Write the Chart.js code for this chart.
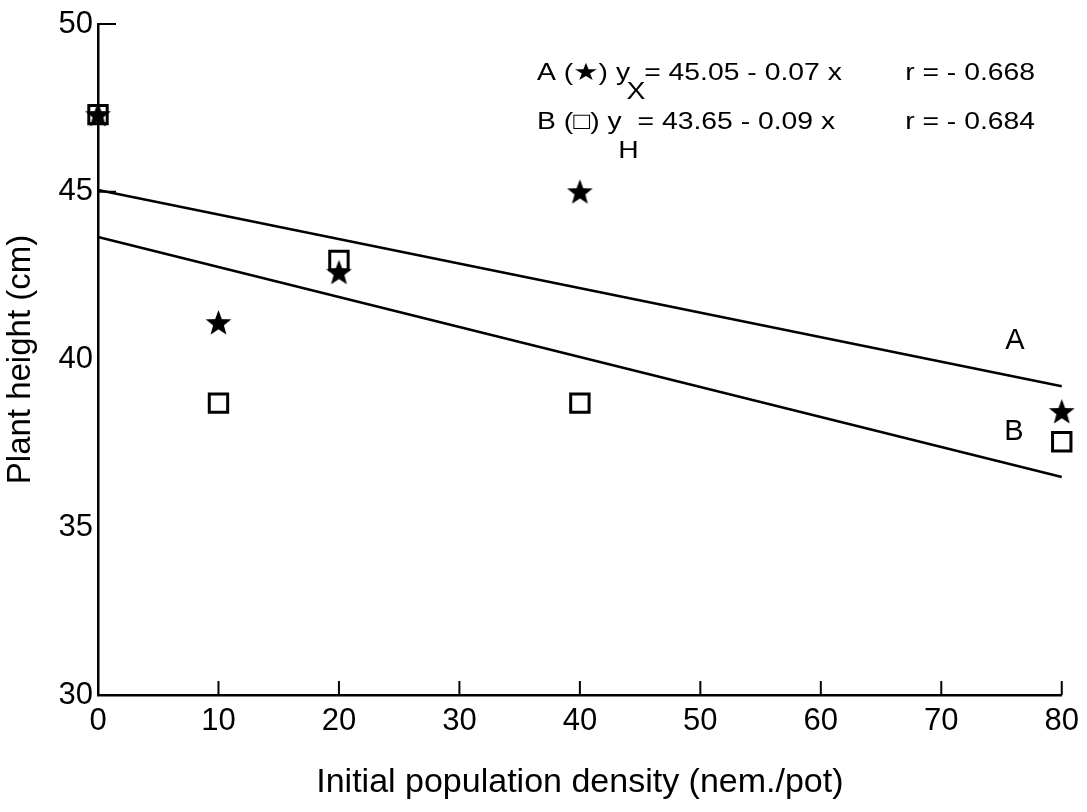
<!DOCTYPE html>
<html>
<head>
<meta charset="utf-8">
<script src="https://cdn.jsdelivr.net/npm/chart.js@4.4.1/dist/chart.umd.min.js"></script>
<style>
  body { margin: 0; background: #fff; }
  canvas { display: block; }
</style>
</head>
<body>
<canvas id="plot" width="1087" height="812"></canvas>
<script>
// values
var densities = [0, 10, 20, 40, 80];
var heightA = [47.3, 41.1, 42.6, 45.0, 38.45];   // stars
var heightB = [47.3, 38.7, 42.95, 38.7, 37.55];  // squares
var fitX = [0, 80];
var fitA = [45.05, 39.2];
var fitB = [43.65, 36.5];
var yInwardTicks = [50, 45];

var FONT = "'Liberation Sans', Arial, Helvetica, 'DejaVu Sans', sans-serif";

function pairs(xs, ys) {
    var out = [];
    for (var i = 0; i < xs.length; i++) {
        out.push({x: xs[i], y: ys[i]});
    }
    return out;
}

// filled five point star used as point style
function makeStar(size) {
    var c = document.createElement('canvas');
    c.width = size;
    c.height = size;
    var g = c.getContext('2d');
    var cx = size / 2, cy = size / 2 + 1;
    var outer = size / 2, inner = outer * 0.42;
    g.beginPath();
    for (var i = 0; i < 10; i++) {
        var r = (i % 2 === 0) ? outer : inner;
        var a = -Math.PI / 2 + i * Math.PI / 5;
        g.lineTo(cx + r * Math.cos(a), cy + r * Math.sin(a));
    }
    g.closePath();
    g.fillStyle = '#000';
    g.fill();
    return c;
}

var starImg = makeStar(27);

// inward tick marks + notes
var extras = {
    id: 'extras',
    afterDraw: function (chart) {
        var ctx = chart.ctx;
        var xs = chart.scales.x, ys = chart.scales.y;
        var area = chart.chartArea;
        ctx.save();
        ctx.strokeStyle = '#000';
        ctx.lineWidth = 2;
        xs.ticks.forEach(function (t) {
            if (t.value === 0) return;
            var px = xs.getPixelForValue(t.value);
            ctx.beginPath();
            ctx.moveTo(px, area.bottom);
            ctx.lineTo(px, area.bottom - 14);
            ctx.stroke();
        });
        yInwardTicks.forEach(function (v) {
            var py = ys.getPixelForValue(v);
            ctx.beginPath();
            ctx.moveTo(area.left, py);
            ctx.lineTo(area.left + 18, py);
            ctx.stroke();
        });

        ctx.fillStyle = '#000';
        ctx.textBaseline = 'alphabetic';

        // equations (the scan is a little wide, so stretch x)
        var sx = 1.18;
        function eqLine(prefix, sub, rest, rtext, base, subBase) {
            ctx.save();
            ctx.font = '24px ' + FONT;
            ctx.translate(537, 0);
            ctx.scale(sx, 1);
            var x = 0;
            ctx.textAlign = 'left';
            ctx.fillText(prefix, x, base);
            x += ctx.measureText(prefix).width;
            ctx.fillText(sub, x - 3, subBase);
            x += ctx.measureText(sub).width - 4;
            ctx.fillText(rest, x, base);
            ctx.textAlign = 'right';
            ctx.fillText(rtext, (1035 - 537) / sx, base);
            ctx.restore();
        }
        eqLine('A (\u2605) y', 'X', '= 45.05 - 0.07 x', 'r = - 0.668', 80, 99);
        eqLine('B (\u25A1) y', 'H', '= 43.65 - 0.09 x', 'r = - 0.684', 129, 158);

        // line labels
        ctx.font = '29px ' + FONT;
        ctx.textAlign = 'center';
        ctx.textBaseline = 'middle';
        ctx.fillText('A', 1015, 341);
        ctx.fillText('B', 1014, 432);
        ctx.restore();
    }
};

var ctx = document.getElementById('plot');

new Chart(ctx, {
    type: 'scatter',
    data: {
        datasets: [
            {
                label: 'A',
                data: pairs(densities, heightA),
                pointStyle: starImg,
                pointRadius: 13,
                clip: false,
                order: 0
            },
            {
                label: 'B',
                data: pairs(densities, heightB),
                pointStyle: 'rect',
                pointRadius: 13,
                pointBorderWidth: 3,
                pointBorderColor: '#000',
                pointBackgroundColor: 'rgba(0,0,0,0)',
                clip: false,
                order: 1
            },
            {
                label: 'fit A',
                data: pairs(fitX, fitA),
                showLine: true,
                pointRadius: 0,
                borderColor: '#000',
                borderWidth: 2.5,
                clip: false,
                order: 2
            },
            {
                label: 'fit B',
                data: pairs(fitX, fitB),
                showLine: true,
                pointRadius: 0,
                borderColor: '#000',
                borderWidth: 2.5,
                clip: false,
                order: 3
            }
        ]
    },
    options: {
        responsive: false,
        animation: false,
        layout: { padding: { top: 24, right: 21, left: 0, bottom: 0 } },
        plugins: {
            legend: { display: false },
            tooltip: { enabled: false }
        },
        scales: {
            x: {
                type: 'linear',
                min: 0,
                max: 80,
                afterFit: function (s) { s.height = 117; },
                grid: { display: false, drawTicks: false },
                border: { display: true, color: '#000', width: 2.5 },
                ticks: {
                    stepSize: 10,
                    padding: 8,
                    color: '#000',
                    font: { family: FONT, size: 31 }
                },
                title: {
                    display: true,
                    text: 'Initial population density (nem./pot)',
                    color: '#000',
                    font: { family: FONT, size: 34 },
                    padding: { top: 0, bottom: 9 }
                }
            },
            y: {
                type: 'linear',
                min: 30,
                max: 50,
                afterFit: function (s) { s.width = 98; },
                grid: { display: false, drawTicks: false },
                border: { display: true, color: '#000', width: 2.5 },
                ticks: {
                    stepSize: 5,
                    padding: 5,
                    color: '#000',
                    font: { family: FONT, size: 31 }
                },
                title: {
                    display: true,
                    text: 'Plant height (cm)',
                    color: '#000',
                    font: { family: FONT, size: 33 },
                    padding: { top: 1, bottom: 0 }
                }
            }
        }
    },
    plugins: [extras]
});
</script>
</body>
</html>
